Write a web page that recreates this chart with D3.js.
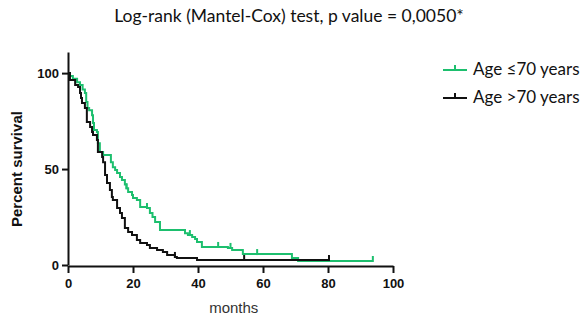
<!DOCTYPE html>
<html>
<head>
<meta charset="utf-8">
<script src="https://cdn.jsdelivr.net/npm/d3@7"></script>
<style>
  html, body { margin: 0; padding: 0; background: #fff; }
  svg { display: block; }
</style>
</head>
<body>
<svg id="chart" width="585" height="320"></svg>
<script>
// Kaplan-Meier steps: [month, percent surviving after the event]
const youngSteps = [
  [0,100],[0.6,98.5],[1.5,97],[2.8,95.3],[3.7,93.8],[4.5,91.5],[5.2,89.6],[5.6,85],
  [6.0,81.8],[6.5,80.7],[7.4,78.1],[7.7,74],[8.0,70.3],[8.9,69.3],[9.2,63.5],[9.8,58.9],
  [10.8,57.3],[13.2,53.6],[13.8,51],[14.5,49.5],[15.1,47.9],[16.0,45.8],[16.6,44.3],
  [17.5,42],[18.0,40],[18.5,38],[19.7,36.5],[20.0,34.9],[21.2,33.9],[22.2,30.2],
  [24.3,29.7],[25.2,27.1],[26.0,25],[26.8,22.4],[28.3,18.2],[36.0,16.5],[36.9,15.6],
  [38.2,14.6],[39.1,13.5],[39.7,12],[41.2,9.4],[49.2,8.9],[50.5,7.8],[53.8,5.7],
  [68.9,3.6],[70.8,2.1]
];
const youngEnd = 93.8;
const youngCensored = [[46.2,9.4],[58.2,5.7],[93.8,2.1],[18.0,40],[24.3,29.7],[37.5,15.6],[50.0,8.9]];

const oldSteps = [
  [0,100],[0.6,96.4],[2.2,93.8],[3.1,92.7],[3.7,89.6],[4.0,87],[4.3,84.4],[5.2,81.8],
  [5.8,74.5],[6.8,71.9],[7.4,69.3],[7.7,67.7],[8.9,65.1],[9.2,58.9],[10.5,56.3],
  [10.8,53.6],[11.4,46.9],[12.0,42.7],[12.9,39.1],[13.5,35.4],[13.8,33.9],[15.1,29.7],
  [16.0,27.1],[16.6,24.5],[17.5,19.3],[18.5,17.2],[19.7,15.6],[21.2,13],[22.2,11.5],
  [24.3,10.4],[25.2,8.9],[27.4,7.8],[29.2,6.8],[30.5,5.2],[32.9,4.2],[33.5,3.6],[39.7,2.6]
];
const oldEnd = 80.3;
const oldCensored = [[32.9,4.2],[54.2,2.6],[80.3,2.6]];

const xTicks = [0, 20, 40, 60, 80, 100];
const yTicks = [0, 50, 100];

const titleText = "Log-rank (Mantel-Cox) test, p value = 0,0050*";
const seriesNames = ["Age \u226470 years", "Age >70 years"];
const seriesColors = ["#1dbf6e", "#111111"];

const svg = d3.select("#chart");

const x = d3.scaleLinear().domain([0, 100]).range([68, 393]);
const y = d3.scaleLinear().domain([0, 111]).range([265, 52]);

// Axes
const xAxis = svg.append("g")
  .attr("transform", `translate(0,${y(0) + 1})`)
  .call(d3.axisBottom(x).tickValues(xTicks).tickSize(7).tickSizeOuter(0).tickPadding(3));
const yAxis = svg.append("g")
  .attr("transform", `translate(${x(0)},0)`)
  .call(d3.axisLeft(y).tickValues(yTicks).tickSize(6).tickSizeOuter(0).tickPadding(3));

[xAxis, yAxis].forEach(g => {
  g.select(".domain").attr("stroke", "#111").attr("stroke-width", 2);
  g.selectAll(".tick line").attr("stroke", "#111").attr("stroke-width", 2);
  g.selectAll(".tick text")
    .attr("fill", "#111")
    .style("font-family", "'Liberation Sans', Arial, sans-serif")
    .style("font-weight", "bold")
    .style("font-size", "13px");
});
xAxis.selectAll(".tick text").attr("dy", "0.9em");
yAxis.selectAll(".tick text").attr("dy", "0.36em");

// Axis titles
svg.append("text")
  .attr("transform", `translate(22,${y(50)}) rotate(-90)`)
  .attr("text-anchor", "middle")
  .style("font-family", "'Liberation Sans', Arial, sans-serif")
  .style("font-weight", "bold")
  .style("font-size", "15px")
  .attr("fill", "#111")
  .text("Percent survival");

svg.append("text")
  .attr("x", x(51))
  .attr("y", 313)
  .attr("text-anchor", "middle")
  .style("font-family", "'Liberation Sans', Arial, sans-serif")
  .style("font-size", "15px")
  .attr("fill", "#333")
  .text("months");

// Title
svg.append("text")
  .attr("x", 289)
  .attr("y", 22)
  .attr("text-anchor", "middle")
  .style("font-family", "Lato, 'Open Sans', sans-serif")
  .style("font-size", "17.5px")
  .attr("fill", "#111")
  .text(titleText);

// Survival curves
const line = d3.line().x(d => x(d[0])).y(d => y(d[1])).curve(d3.curveStepAfter);

function drawSeries(steps, endT, censored, color) {
  const pts = steps.concat([[endT, steps[steps.length - 1][1]]]);
  svg.append("path")
    .datum(pts)
    .attr("fill", "none")
    .attr("stroke", color)
    .attr("stroke-width", 2)
    .attr("d", line);
  svg.append("g").selectAll("line")
    .data(censored)
    .join("line")
    .attr("x1", d => x(d[0])).attr("x2", d => x(d[0]))
    .attr("y1", d => y(d[1]) - 5).attr("y2", d => y(d[1]) + 1)
    .attr("stroke", color)
    .attr("stroke-width", 2);
}

drawSeries(youngSteps, youngEnd, youngCensored, seriesColors[0]);
drawSeries(oldSteps, oldEnd, oldCensored, seriesColors[1]);

// Legend
const legend = svg.append("g");
seriesNames.forEach((name, i) => {
  const ly = 70 + i * 28;
  legend.append("line")
    .attr("x1", 443).attr("x2", 467).attr("y1", ly).attr("y2", ly)
    .attr("stroke", seriesColors[i]).attr("stroke-width", 2);
  legend.append("line")
    .attr("x1", 455).attr("x2", 455).attr("y1", ly - 5).attr("y2", ly)
    .attr("stroke", seriesColors[i]).attr("stroke-width", 2);
  legend.append("text")
    .attr("x", 473)
    .attr("y", ly + 5)
    .style("font-family", "Lato, 'Open Sans', sans-serif")
    .style("font-size", "17px")
    .attr("fill", "#111")
    .text(name);
});
</script>
</body>
</html>
